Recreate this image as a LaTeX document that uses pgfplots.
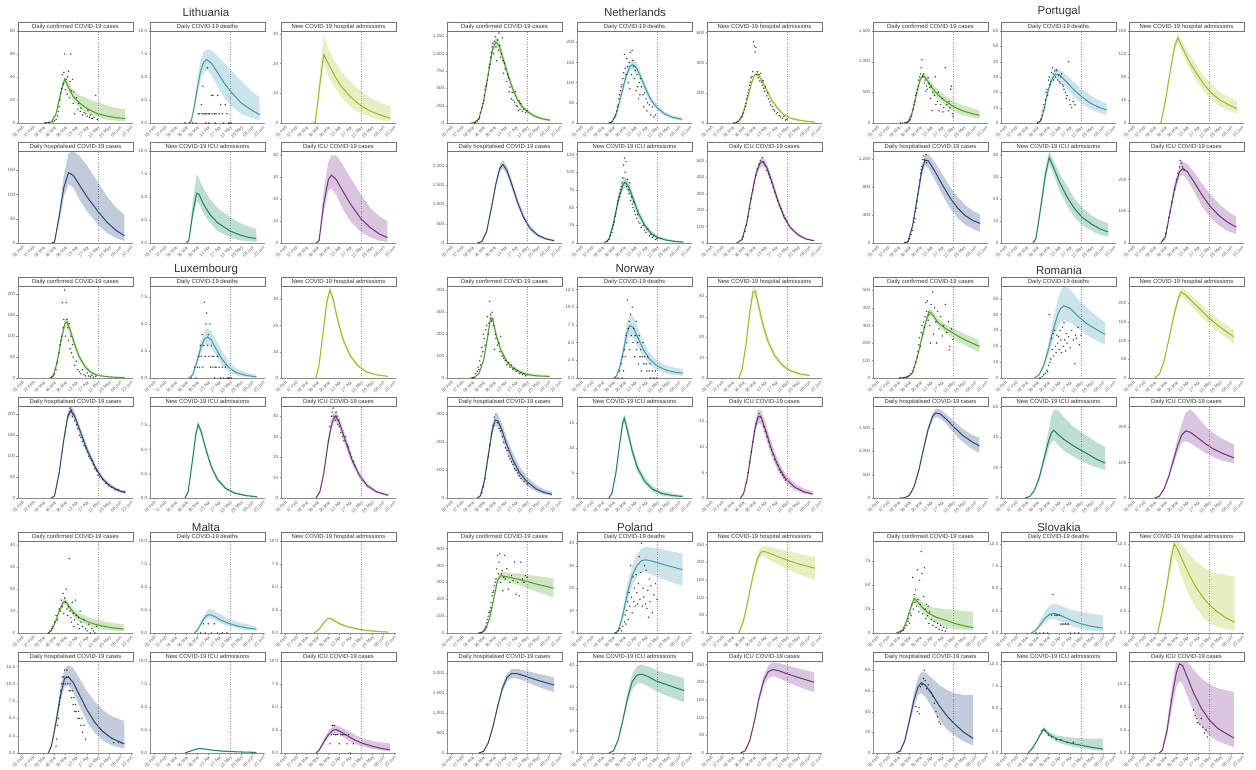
\documentclass[border=0pt]{standalone}
\usepackage{fontspec}
\setmainfont{Liberation Sans}
\usepackage{pgfplots}
\pgfplotsset{compat=1.18}
\definecolor{c1}{RGB}{92,172,52}
\definecolor{c2}{RGB}{84,166,186}
\definecolor{c3}{RGB}{176,202,52}
\definecolor{c4}{RGB}{52,82,132}
\definecolor{c5}{RGB}{40,142,112}
\definecolor{c6}{RGB}{128,62,142}
\pgfplotsset{
 table/row sep=\\, table/header=false,
 panel/.style={scale only axis, width=115pt, height=92pt, anchor=south west,
  xmin=-5, xmax=143, ymin=0, stack plots=y,
  axis x line*=bottom, axis y line*=left,
  axis line style={black!45, line width=0.4pt},
  xtick={0,14,...,140},
  xticklabels={03 Feb,17 Feb,02 Mar,16 Mar,30 Mar,13 Apr,27 Apr,11 May,25 May,08 Jun,22 Jun},
  x tick label style={rotate=45, anchor=north east, font=\fontsize{4.4}{5}\selectfont, text=black!65, inner sep=0.8pt},
  y tick label style={font=\fontsize{4.6}{5}\selectfont, text=black!65, inner sep=1pt},
  tick style={black!45, line width=0.3pt}, major tick length=1.5pt, tick align=outside,
  scaled y ticks=false,
  /pgf/number format/assume math mode=true},
 dec/.style={/pgf/number format/fixed, /pgf/number format/fixed zerofill, /pgf/number format/precision=1}
}
\newcommand{\ptitle}[1]{\ifcase#1\or Daily confirmed COVID-19 cases\or Daily COVID-19 deaths\or New COVID-19 hospital admissions\or Daily hospitalised COVID-19 cases\or New COVID-19 ICU admissions\or Daily ICU COVID-19 cases\fi}
% #1 x  #2 y  #3 type  #4 ymax  #5 options  #6 curve (day, mid, lo, hi)  #7 observed points
\newcommand{\panel}[7]{%
\begin{axis}[panel, name=ax, at={(#1pt,#2pt)}, ymax=#4, #5]
\addplot[draw=none, forget plot] table[x index=0, y index=2] {#6\\};
\addplot[fill=c#3, fill opacity=0.3, draw=none, forget plot] table[x index=0, y expr=\thisrowno{3}-\thisrowno{2}] {#6\\} \closedcycle;
\addplot[stack plots=false, forget plot, black!40, dotted, line width=0.45pt] coordinates {(98,0) (98,#4)};
\if\relax\detokenize{#7}\relax\else
\addplot[stack plots=false, only marks, mark=*, mark size=0.55pt, black!85, mark options={draw opacity=0.7, fill opacity=0.7}] table[x index=0, y index=1] {#7\\};
\fi
\addplot[stack plots=false, c#3!88!black, line width=1.05pt] table[x index=0, y index=1] {#6\\};
\end{axis}
\draw[black!55, line width=0.4pt, fill=white] (ax.north west) rectangle ([yshift=9pt]ax.north east);
\node[font=\fontsize{5.9}{6}\selectfont, text=black!80, inner sep=0pt] at ([yshift=4.5pt]ax.north) {\ptitle{#3}};
}
\begin{document}
\begin{tikzpicture}
\path[use as bounding box] (0,0) rectangle (1256pt,769pt);
\begin{scope}[every node/.style={font=\fontsize{11.5}{12}\selectfont, text=black!80}]
\node at (206pt,757pt) {Lithuania};
\node at (635pt,757pt) {Netherlands};
\node at (1059pt,757pt) {Portugal};
\node at (206pt,499pt) {Luxembourg};
\node at (635pt,499pt) {Norway};
\node at (1059pt,499pt) {Romania};
\node at (206pt,242pt) {Malta};
\node at (635pt,242pt) {Poland};
\node at (1059pt,242pt) {Slovakia};
\end{scope}
% ================= LITHUANIA =================
\panel{18}{646}{1}{80}{ytick={0,20,...,80}}
{28 0 0 0\\38 1 .5 1.5\\44 8 6 10\\50 26 23 29\\55 38 35 41\\60 31 27 35\\66 23 19 28\\75 17 13 24\\85 12 8 21\\98 8 5 18\\110 6 3 15\\122 4.5 2 13\\133 4 1.5 12}
{30 0\\35 0.5\\40 1\\42 2\\44 3\\46 6\\47 10\\48 14\\49 20\\50 26\\51 30\\52 42\\53 34\\54 44\\55 60\\56 29\\57 38\\58 25\\59 40\\60 45\\61 22\\62 36\\63 60\\64 28\\65 38\\66 17\\67 27\\68 8\\70 22\\72 12\\73 17\\75 10\\76 13\\78 7\\80 9\\82 8\\84 6\\85 11\\87 5\\88 7\\90 4\\91 4\\93 5\\95 24\\97 3}
\panel{150}{646}{2}{10}{ytick={0,2.5,...,10}, dec}
{45 0 0 0\\48 .2 .1 .4\\52 1.8 1.3 2.4\\56 3.8 3 4.8\\60 5.6 4.6 6.8\\64 6.6 5.5 7.8\\68 6.9 5.8 8\\74 6.5 5.2 7.9\\82 5.5 4 7.3\\90 4.4 2.8 6.6\\100 3.3 1.8 5.7\\112 2.2 1 4.6\\124 1.5 .6 3.6\\136 .9 .3 2.8}
{40 0\\46 0\\50 0\\54 0\\57 1\\59 1\\61 2\\62 1\\63 4\\64 1\\66 1\\67 0\\68 1\\69 6\\70 1\\71 0\\72 1\\74 3\\75 1\\76 3\\78 1\\79 0\\80 1\\82 3\\84 1\\86 2\\88 1\\90 0\\92 2\\94 1\\96 0\\98 0\\100 0}
\panel{281}{646}{3}{31}{ytick={0,10,20,30}}
{36 0 0 0\\39 0 0 0\\44 11 9 14\\50 23 20 30\\56 20 16 25\\64 16 12 21\\72 12.5 9 17.5\\82 9.5 6 14.5\\92 7 4 12\\100 5.5 3 10.5\\110 4 2 8.5\\122 2.8 1 7\\136 1.6 .5 5.5}
{}
\panel{18}{526}{4}{190}{ytick={0,50,100,150}}
{38 0 0 0\\42 2 1 3\\48 55 45 65\\54 115 95 140\\60 145 122 185\\66 140 115 190\\74 120 90 180\\84 95 65 160\\98 65 38 125\\110 42 20 95\\122 25 10 72\\132 15 4 58}
{}
\panel{150}{526}{5}{10}{ytick={0,2.5,...,10}, dec}
{42 0 0 0\\45 .3 .2 .5\\50 3.2 2.6 4.4\\55 5.4 4.5 7.5\\58 5.3 4.3 7\\64 4.2 3.2 5.9\\72 3.1 2.2 4.8\\82 2.2 1.3 3.8\\98 1.3 .6 2.8\\110 .9 .3 2.2\\122 .6 .2 1.8\\132 .5 .1 1.5}
{}
\panel{281}{526}{6}{42}{ytick={0,10,...,40}}
{40 0 0 0\\44 1 .5 2\\50 18 14 24\\56 29 24 37\\60 31 25 40\\66 29 22 40\\74 24 16 36\\84 18 10 30\\98 11 5 22\\110 7 2.5 16\\122 4 1 12\\132 2.5 .5 10}
{}
% ================= NETHERLANDS =================
\panel{447}{646}{1}{1330}{ytick={0,250,...,1250}}
{25 0 0 0\\30 5 3 7\\36 60 50 70\\42 300 270 330\\48 700 650 750\\54 1080 1020 1150\\58 1170 1100 1250\\62 1120 1050 1200\\68 900 840 970\\74 680 620 740\\80 480 430 530\\86 330 290 370\\92 230 200 265\\98 170 145 195\\106 110 90 135\\114 70 55 95\\122 50 35 70\\128 40 25 60}
{30 2\\32 10\\34 30\\36 55\\37 80\\38 150\\40 220\\41 280\\42 330\\43 400\\44 480\\45 530\\46 560\\47 620\\48 700\\49 800\\50 850\\51 950\\52 1020\\53 1100\\54 1150\\55 1000\\56 1180\\57 1250\\58 1100\\59 900\\60 1200\\61 1050\\62 1300\\63 1120\\64 950\\65 1000\\66 1230\\67 900\\68 720\\69 860\\70 780\\72 600\\73 700\\74 650\\75 450\\76 520\\78 350\\79 440\\80 330\\82 300\\83 450\\84 250\\86 240\\87 180\\88 320\\89 200\\90 280\\92 170\\94 200\\96 150\\98 180}
\panel{577}{646}{2}{228}{ytick={0,50,...,200}}
{35 0 0 0\\40 2 1 3\\46 25 20 30\\52 70 62 78\\58 115 105 126\\63 140 128 155\\67 145 132 160\\72 135 122 150\\78 110 98 122\\84 82 72 92\\90 58 50 66\\98 38 32 45\\108 22 18 28\\118 14 10 19\\130 9 6 13}
{38 1\\40 4\\42 10\\44 15\\45 20\\46 30\\47 40\\48 45\\49 60\\50 70\\51 80\\52 90\\53 95\\54 110\\55 125\\56 170\\57 135\\58 120\\59 160\\60 140\\61 100\\62 150\\63 85\\64 175\\65 120\\66 180\\67 155\\68 140\\69 110\\70 130\\71 80\\72 120\\73 90\\74 60\\75 100\\76 70\\77 110\\78 90\\80 70\\81 40\\82 75\\84 60\\85 30\\86 50\\88 45\\90 20\\92 40\\94 15\\96 20}
\panel{707}{646}{3}{610}{ytick={0,200,400,600}}
{28 0 0 0\\33 3 2 5\\40 40 34 46\\46 140 128 152\\52 260 245 275\\57 325 310 340\\61 320 305 340\\66 280 262 298\\72 215 200 232\\78 155 142 170\\86 95 85 108\\94 55 47 64\\102 32 25 40\\112 20 14 28\\122 12 7 18\\134 6 3 12}
{30 0\\33 5\\35 10\\37 20\\38 30\\39 40\\40 45\\41 60\\42 70\\43 90\\44 110\\45 130\\46 160\\47 180\\48 200\\49 220\\50 250\\51 270\\52 300\\53 310\\54 340\\55 540\\56 510\\57 470\\58 500\\59 320\\60 340\\61 300\\62 320\\63 280\\64 330\\65 270\\66 250\\67 280\\68 230\\69 210\\70 240\\72 180\\73 200\\74 160\\76 140\\77 120\\79 110\\80 90\\82 80\\84 60\\86 70\\88 50\\90 40\\92 30\\94 45\\96 20\\98 25}
\panel{447}{526}{4}{2400}{ytick={0,500,...,2000}}
{34 0 0 0\\40 40 30 50\\46 300 270 330\\52 900 840 960\\58 1550 1470 1630\\63 1950 1860 2040\\67 2050 1950 2160\\72 1900 1790 2010\\78 1550 1440 1660\\86 1050 960 1150\\94 650 580 730\\102 380 330 440\\112 200 165 240\\122 110 85 140\\133 60 42 85}
{}
\panel{577}{526}{5}{130}{ytick={0,25,...,125}}
{30 0 0 0\\36 5 4 7\\42 28 24 32\\48 60 54 67\\54 82 75 90\\57 86 78 94\\62 78 70 86\\68 60 53 67\\74 42 36 48\\82 25 21 30\\90 14 11 18\\98 8 6 11\\110 4 2.5 6\\122 2 1 3.5\\132 1.2 .5 2.5}
{34 2\\36 5\\38 10\\40 15\\41 20\\42 25\\43 30\\44 38\\45 42\\46 48\\47 55\\48 60\\49 65\\50 70\\51 75\\52 80\\53 85\\54 92\\55 110\\56 120\\57 100\\58 115\\59 80\\60 90\\61 75\\62 70\\63 85\\64 60\\65 65\\66 55\\67 50\\68 58\\69 45\\70 40\\72 35\\73 40\\74 30\\76 28\\78 22\\80 25\\82 18\\84 15\\86 20\\88 10\\90 12\\92 8\\94 10\\96 5\\98 6}
\panel{707}{526}{6}{560}{ytick={0,100,...,500}}
{33 0 0 0\\40 20 15 25\\46 120 105 135\\52 280 260 300\\58 420 395 445\\63 485 460 510\\67 495 470 520\\72 460 435 485\\78 380 355 405\\86 260 240 282\\94 160 145 178\\102 95 84 108\\112 50 42 60\\122 25 20 33\\133 13 9 18}
{40 25\\42 40\\44 70\\46 110\\48 160\\50 210\\52 270\\54 320\\56 370\\58 410\\60 450\\62 480\\64 500\\66 520\\68 490\\70 470\\72 440\\74 420\\76 400\\78 370\\80 340\\82 310\\84 280\\86 260\\88 230\\90 210\\92 190\\94 170\\96 150\\98 130}
% ================= PORTUGAL =================
\panel{873}{646}{1}{1500}{ytick={0,500,...,1500}}
{36 0 0 0\\40 10 5 15\\45 150 130 170\\50 420 390 450\\55 680 640 720\\59 780 740 820\\63 730 680 790\\70 590 520 660\\78 470 390 550\\88 360 280 450\\98 270 190 360\\110 200 130 290\\122 155 95 240\\132 125 70 205}
{30 0\\33 2\\36 5\\38 10\\40 20\\42 40\\43 60\\44 100\\45 130\\46 200\\47 230\\48 300\\49 350\\50 450\\51 480\\52 550\\53 600\\54 700\\55 750\\56 800\\57 900\\58 1030\\59 750\\60 800\\61 650\\62 700\\63 520\\64 600\\65 550\\66 740\\67 650\\68 580\\69 400\\70 600\\71 200\\72 500\\74 450\\75 750\\76 300\\78 350\\79 500\\80 200\\82 300\\84 400\\85 180\\86 250\\88 900\\90 300\\92 200\\93 350\\94 250\\95 550\\96 600\\97 150\\98 100}
\panel{1001}{646}{2}{60}{ytick={0,10,...,60}}
{42 0 0 0\\46 1 .5 1.5\\50 8 6.5 9.5\\55 20 17.5 22.5\\60 28 25 31\\65 32 29 35\\70 31.5 28 35\\78 27.5 23.5 32\\88 22 17.5 27\\98 17.5 13 22.5\\110 13 9 18\\122 10 6.5 14.5\\131 8.5 5 12.5}
{42 0\\44 1\\46 2\\47 3\\48 5\\49 8\\50 12\\51 10\\52 15\\53 20\\54 22\\55 18\\56 28\\57 30\\58 25\\59 27\\60 33\\61 36\\62 32\\63 28\\64 34\\65 30\\66 35\\67 34\\68 28\\69 31\\70 27\\71 26\\72 30\\73 32\\74 25\\75 24\\76 22\\78 20\\79 16\\80 18\\82 40\\83 15\\84 12\\86 10\\88 14\\90 12}
\panel{1129}{646}{3}{160}{ytick={0,40,...,160}}
{36 0 0 0\\42 40 37 43\\48 90 85 95\\54 135 128 142\\58 148 140 156\\64 130 120 141\\72 108 96 121\\82 86 73 100\\92 66 53 81\\101 52 40 67\\112 40 29 54\\124 31 21 45\\134 25 16 38}
{}
\panel{873}{526}{4}{1320}{ytick={0,400,...,1200}}
{36 0 0 0\\40 20 15 25\\46 250 220 280\\52 650 600 700\\58 1050 980 1120\\62 1190 1110 1270\\66 1180 1080 1280\\74 1040 920 1170\\84 840 700 990\\94 650 500 810\\104 500 360 660\\114 390 260 540\\124 320 200 460\\133 280 160 410}
{36 10\\40 20\\42 60\\44 120\\46 180\\48 300\\49 350\\50 450\\51 500\\52 600\\53 700\\54 800\\55 900\\56 1000\\57 1050\\58 1100\\59 1200\\60 1250\\61 1200\\62 1180\\63 1270\\64 1150}
\panel{1001}{526}{5}{42}{ytick={0,10,...,40}}
{36 0 0 0\\40 2 1.5 2.5\\46 16 14 18\\52 31 28 34\\57 39 36 42\\62 35 32 38\\70 28 24 32\\80 21 17 26\\90 15.5 11.5 20\\100 11.5 8 16\\112 8.5 5.5 12.5\\122 6.5 3.8 10.5\\133 5 2.8 9}
{}
\panel{1129}{526}{6}{290}{ytick={0,100,200}}
{36 0 0 0\\42 20 15 25\\48 100 90 110\\54 175 160 190\\60 225 208 243\\64 235 215 255\\70 225 200 250\\78 195 165 225\\88 155 120 190\\98 120 85 158\\110 88 57 125\\122 65 38 100\\133 50 27 82}
{40 10\\42 30\\44 50\\46 80\\48 100\\50 130\\52 150\\54 170\\56 200\\58 220\\60 240\\61 260\\62 250\\63 255\\64 240\\66 230}
% ================= LUXEMBOURG =================
\panel{18}{391}{1}{220}{ytick={0,50,...,200}}
{36 0 0 0\\40 3 2 4\\45 35 30 40\\50 85 78 92\\55 128 118 138\\58 135 124 146\\62 115 104 126\\68 80 70 90\\74 50 43 58\\82 25 20 31\\90 12 9 16\\98 6 4 9\\110 3 1.5 5\\122 1.5 .6 3\\133 1 .3 2.5}
{38 2\\40 5\\42 10\\44 20\\45 35\\46 40\\48 60\\49 80\\50 90\\51 100\\52 180\\53 120\\54 140\\55 210\\56 100\\57 180\\58 140\\59 120\\60 90\\61 130\\62 70\\63 100\\64 60\\65 80\\66 50\\68 30\\70 40\\72 20\\74 15\\76 10\\78 20\\80 8\\82 5\\84 12\\86 5\\88 3\\90 6\\92 2\\95 4}
\panel{150}{391}{2}{8.5}{ytick={0,2.5,5,7.5}, dec}
{45 0 0 0\\50 .3 .2 .5\\55 1.4 1.1 1.8\\60 2.7 2.2 3.3\\65 3.6 3 4.3\\69 3.8 3.1 4.6\\74 3.5 2.8 4.3\\80 2.7 2 3.5\\88 1.7 1.1 2.5\\96 1 .6 1.6\\106 .5 .25 .9\\118 .25 .1 .5\\132 .1 .03 .3}
{48 0\\52 1\\54 0\\56 1\\58 2\\59 1\\60 3\\61 2\\62 4\\63 1\\64 3\\65 7\\66 2\\67 5\\68 6\\69 3\\70 4\\71 2\\72 5\\73 1\\74 3\\75 2\\76 1\\77 2\\78 0\\79 1\\80 1\\82 2\\84 1\\86 0\\88 1\\90 0\\92 1\\94 0\\96 0\\98 0\\100 0}
\panel{281}{391}{3}{35}{ytick={0,10,20,30}}
{40 0 0 0\\44 5 4.5 5.5\\49 17 16 18\\54 29 27.5 30.5\\58 33.5 32 35\\62 30 28.5 31.5\\68 22 20.5 23.5\\75 14.5 13.5 15.5\\84 8.5 7.8 9.3\\94 4.6 4.1 5.2\\104 2.5 2.2 2.9\\116 1.3 1.1 1.6\\133 .6 .45 .8}
{}
\panel{18}{271}{4}{220}{ytick={0,50,...,200}}
{38 0 0 0\\42 5 4 6\\48 60 55 65\\54 140 132 148\\59 195 185 205\\63 210 199 221\\68 195 184 206\\75 160 150 170\\84 115 106 124\\94 75 68 82\\104 45 40 51\\114 28 24 33\\124 18 15 22\\133 13 10 17}
{60 200\\62 215\\63 205\\64 210\\65 195\\66 200\\68 185\\70 175\\72 165\\74 150\\76 145\\78 135\\80 125\\82 120\\84 110\\86 100\\88 95\\90 90\\92 80\\94 70\\96 65\\98 55\\100 50\\104 45\\108 35\\112 30\\116 25\\120 20\\124 20\\128 15\\132 15}
\panel{150}{271}{5}{9.5}{ytick={0,2.5,5,7.5}, dec}
{40 0 0 0\\44 .6 .5 .7\\49 3.5 3.3 3.7\\54 6.6 6.3 6.9\\57 7.6 7.3 7.9\\61 6.8 6.5 7.1\\67 5 4.7 5.3\\74 3.2 3 3.5\\82 1.9 1.7 2.1\\92 1 .9 1.2\\104 .5 .4 .6\\118 .25 .2 .35\\133 .12 .08 .2}
{}
\panel{281}{271}{6}{45}{ytick={0,10,...,40}}
{40 0 0 0\\45 3 2.5 3.5\\50 12 11 13\\56 28 26 30\\61 37.5 35 40\\65 40 37.5 42.5\\70 37 34.5 39.5\\78 28 25.5 30.5\\86 19 17 21\\96 11 9.5 12.5\\106 6 5 7\\118 3 2.4 3.7\\133 1.3 .9 1.8}
{56 28\\58 35\\60 40\\61 42\\62 44\\63 40\\64 45\\65 38\\66 42\\67 40\\68 36\\69 38\\70 35\\72 32\\74 30\\76 28\\78 30\\80 26\\82 25\\84 22\\86 20\\88 18\\90 16}
% ================= NORWAY =================
\panel{447}{391}{1}{420}{ytick={0,100,...,400}}
{25 0 0 0\\30 3 2 4\\36 20 17 23\\42 80 72 88\\47 180 168 192\\51 275 260 290\\54 265 250 280\\58 200 186 214\\64 130 118 143\\72 75 65 87\\80 45 36 55\\90 25 17 34\\98 16 10 24\\110 10 5 17\\127 7 3 13}
{28 1\\30 2\\32 20\\34 30\\35 50\\36 40\\37 80\\38 60\\39 100\\40 140\\41 120\\42 200\\43 180\\44 150\\45 220\\46 240\\47 280\\48 200\\49 250\\50 350\\51 290\\52 260\\53 300\\54 270\\55 240\\56 130\\57 200\\58 180\\60 150\\62 160\\63 120\\64 190\\66 100\\68 90\\70 80\\72 60\\74 70\\76 50\\78 60\\80 40\\82 45\\84 30\\86 35\\88 20\\90 25\\92 15\\94 20\\96 10}
\panel{577}{391}{2}{13}{ytick={0,2.5,...,12.5}, dec}
{42 0 0 0\\46 .3 .2 .5\\50 1.5 1.1 2\\55 4 3.1 5\\59 6.3 5 7.6\\63 7.4 5.9 9\\67 7.2 5.7 8.8\\73 5.8 4.5 7.2\\80 4.1 3.1 5.3\\88 2.7 1.9 3.6\\98 1.7 1.1 2.5\\110 1.1 .6 1.8\\122 .8 .4 1.4\\131 .7 .3 1.3}
{45 0\\48 0\\50 1\\52 2\\53 0\\54 3\\55 1\\56 4\\57 3\\58 6\\59 5\\60 11\\61 7\\62 8\\63 4\\64 9\\65 6\\66 10\\67 5\\68 7\\69 3\\70 6\\71 8\\72 4\\73 5\\74 2\\75 6\\76 3\\77 4\\78 1\\79 3\\80 5\\81 2\\82 3\\84 2\\85 1\\86 3\\88 1\\89 2\\90 0\\92 1\\94 0\\96 1\\98 0}
\panel{707}{391}{3}{45}{ytick={0,10,...,40}}
{36 0 0 0\\40 4 3.5 4.5\\45 16 14.5 17.5\\50 32 29.5 34.5\\54 42 39 45\\57 42.5 39 46\\61 36 33 39\\67 26 23.5 28.5\\74 17.5 15.5 19.5\\82 11 9.5 12.5\\92 6.2 5.2 7.3\\102 3.6 2.8 4.5\\114 2 1.4 2.7\\127 1.2 .7 1.8}
{}
\panel{447}{271}{4}{330}{ytick={0,100,200,300}}
{34 0 0 0\\38 8 6 10\\43 60 52 68\\48 150 138 163\\53 240 222 258\\57 280 260 300\\61 275 253 297\\66 240 215 265\\72 190 165 215\\80 135 112 160\\88 92 73 115\\98 58 43 76\\110 32 22 46\\120 20 13 31\\130 13 8 22}
{40 20\\42 40\\44 70\\46 110\\48 150\\50 190\\52 230\\54 260\\56 290\\58 300\\60 270\\62 250\\64 240\\66 220\\68 200\\70 180\\72 170\\74 150\\76 140\\78 130\\80 120\\82 105\\84 100\\86 90\\88 80\\90 70\\94 60\\98 50}
\panel{577}{271}{5}{18.5}{ytick={0,5,10,15}}
{36 0 0 0\\40 1 .9 1.1\\45 5 4.7 5.3\\50 11 10.4 11.6\\54 15.2 14.5 16\\56 16 15.2 16.8\\60 13.5 12.5 14.5\\66 9.5 8.5 10.5\\73 6 5.2 6.8\\82 3.4 2.8 4.1\\92 1.8 1.3 2.4\\104 .9 .5 1.4\\118 .5 .2 .9\\131 .3 .1 .6}
{}
\panel{707}{271}{6}{18}{ytick={0,5,10,15}}
{38 0 0 0\\42 .8 .7 1\\47 4 3.5 4.5\\52 9 8.2 9.8\\57 13.8 12.7 15\\61 16 14.7 17.3\\65 15.7 14.3 17.1\\71 13 11.6 14.4\\78 9.5 8.2 10.8\\86 6.4 5.4 7.5\\96 3.8 3 4.7\\108 2.1 1.5 2.8\\120 1.2 .8 1.8\\131 .8 .5 1.3}
{46 3\\48 5\\50 7\\52 9\\54 11\\56 13\\58 14.5\\60 15.5\\62 16.5\\64 16\\66 15\\68 14\\70 13\\72 12\\74 11\\76 10\\78 9.5\\80 8.5\\82 7.5\\84 7\\86 6.5\\88 5.5\\90 5\\92 4.5\\94 4\\96 3.5}
% ================= ROMANIA =================
\panel{873}{391}{1}{525}{ytick={0,100,...,500}}
{28 0 0 0\\34 1 .5 1.5\\40 6 4 8\\46 30 26 34\\52 120 110 130\\58 230 215 245\\63 320 300 340\\67 378 358 398\\71 365 345 385\\78 320 298 342\\88 283 258 308\\99 253 225 282\\110 225 195 258\\122 200 168 235\\132 180 146 215}
{30 0\\34 1\\36 3\\38 5\\40 10\\42 15\\44 25\\46 40\\48 60\\50 90\\52 120\\53 150\\54 190\\55 230\\56 180\\57 260\\58 300\\59 250\\60 320\\61 290\\62 350\\63 430\\64 380\\65 440\\66 330\\67 360\\68 300\\69 200\\70 420\\72 490\\73 250\\74 400\\76 320\\77 200\\78 380\\80 280\\82 350\\84 240\\86 300\\88 420\\90 260\\92 320\\93 160\\94 180\\96 280\\98 220}
\panel{1001}{391}{2}{58}{ytick={0,10,...,50}}
{38 0 0 0\\44 2 1.5 2.5\\50 8 6 10\\56 18 14 22\\62 30 24 36\\68 40 32 50\\72 44 35 55\\76 45.5 36.5 58\\84 44 35 56\\95 38.5 31 49\\106 34 27 44\\118 30.5 23.5 39\\129 27.5 21 35}
{44 0\\46 0\\48 1\\50 2\\52 3\\54 5\\55 4\\56 8\\57 40\\58 10\\59 12\\60 25\\61 18\\62 28\\63 14\\64 30\\65 20\\66 16\\67 27\\68 22\\69 26\\70 18\\71 30\\72 24\\73 16\\74 32\\75 20\\76 35\\77 24\\78 17\\79 28\\80 22\\82 26\\84 19\\86 30\\88 24\\90 9\\91 27\\92 25\\94 32\\96 21\\98 27}
\panel{1129}{391}{3}{246}{ytick={0,50,...,200}}
{28 0 0 0\\34 10 9 11\\40 45 42 48\\46 100 95 105\\52 160 152 168\\58 210 200 220\\62 230 220 240\\68 222 210 234\\76 205 190 220\\86 185 168 202\\97 162 146 180\\108 143 126 160\\120 124 107 142\\130 110 92 127}
{}
\panel{873}{271}{4}{1974}{ytick={0,500,...,1500}}
{30 0 0 0\\36 5 4 6\\42 60 55 65\\48 250 235 265\\54 600 570 630\\60 1050 1000 1100\\66 1480 1410 1550\\72 1760 1680 1840\\76 1825 1740 1910\\82 1800 1705 1895\\90 1680 1570 1790\\99 1525 1400 1650\\110 1350 1210 1490\\121 1220 1070 1370\\132 1115 960 1290}
{}
\panel{1001}{271}{5}{60.5}{ytick={0,20,40,60}}
{26 0 0 0\\32 1 .8 1.2\\38 5 4.5 5.5\\44 13 11.5 14.5\\50 25 22 28\\56 37 32 44\\60 43 37 54\\63 44.5 38 58\\68 42 35 58\\76 38.5 31 53\\86 35 28 48\\96 32 25 44\\108 28.5 22 40\\118 25.5 20 36.5\\129 23 18.5 33.5}
{}
\panel{1129}{271}{6}{259}{ytick={0,100,200}}
{28 0 0 0\\34 5 4 6\\40 25 22 28\\46 60 54 66\\52 105 94 118\\58 150 132 172\\63 178 155 210\\68 189 160 240\\74 185 155 250\\82 172 143 232\\92 155 128 205\\102 140 117 185\\114 127 106 168\\130 113 98 150}
{}
% ================= MALTA =================
\panel{18}{136}{1}{42}{ytick={0,10,...,40}}
{34 0 0 0\\38 1 .8 1.2\\43 5 4.3 5.7\\48 10 9 11\\53 14 12.8 15.2\\56 14.5 13 16\\60 12.5 11 14\\66 9.5 7.8 11.3\\74 7 5.2 9\\84 5.2 3.4 7.5\\94 4 2.3 6.2\\106 3 1.5 5.2\\118 2.3 1 4.5\\131 1.8 .7 4}
{34 0\\36 1\\38 2\\40 3\\42 5\\44 8\\46 6\\48 11\\50 10\\51 15\\52 12\\53 18\\54 9\\55 16\\56 14\\57 20\\58 11\\59 8\\60 12\\61 34\\62 10\\63 7\\64 5\\65 14\\66 9\\67 3\\68 6\\69 15\\70 8\\72 4\\73 7\\74 2\\75 10\\76 5\\78 3\\80 6\\82 2\\84 1\\86 4\\88 0\\90 2\\92 1\\94 0\\96 3}
\panel{150}{136}{2}{10}{ytick={0,2.5,...,10}, dec}
{52 0 0 0\\56 .3 .2 .4\\60 .9 .7 1.2\\64 1.5 1.2 1.9\\68 1.9 1.5 2.4\\72 2 1.6 2.6\\78 1.8 1.4 2.4\\86 1.4 1.05 2\\96 1.05 .75 1.55\\108 .75 .5 1.2\\120 .55 .35 .95\\132 .4 .25 .75}
{60 0\\64 1\\66 0\\70 1\\74 0\\78 1\\82 0\\88 0\\94 0}
\panel{281}{136}{3}{10}{ytick={0,2.5,...,10}, dec}
{38 0 0 0\\44 .4 .35 .45\\50 1.1 1 1.2\\55 1.55 1.45 1.65\\58 1.6 1.5 1.7\\64 1.3 1.2 1.45\\72 .95 .83 1.07\\82 .65 .55 .78\\94 .42 .33 .53\\108 .25 .18 .34\\122 .15 .1 .23\\133 .1 .06 .17}
{}
\panel{18}{16}{4}{13.3}{ytick={0,2.5,...,12.5}, dec}
{34 0 0 0\\38 1 .8 1.2\\44 4.5 3.8 5.3\\50 8.5 7.5 9.7\\55 10.8 9.6 12.2\\60 11 9.8 12.7\\66 10.2 8.8 12.3\\74 8.4 6.8 10.8\\84 6.2 4.5 8.9\\94 4.4 2.9 7.4\\104 3.1 1.8 6.2\\116 2.1 1.1 5.3\\132 1.3 .6 4.6}
{44 1\\45 2\\46 4\\47 5\\48 7\\49 8\\50 9\\51 10\\52 11\\53 10\\54 11\\55 12\\56 10\\57 11\\58 12\\59 10\\60 11\\61 9\\62 10\\63 9\\64 8\\65 9\\66 7\\67 8\\68 6\\69 7\\70 6\\72 5\\73 6\\74 5\\76 4\\77 5\\78 3\\80 4\\82 2\\118 1.5\\124 1.5\\128 1.5}
\panel{150}{16}{5}{10}{ytick={0,2.5,...,10}, dec}
{40 0 0 0\\50 .3 .28 .32\\58 .5 .45 .55\\64 .45 .4 .5\\74 .32 .28 .37\\86 .22 .18 .27\\100 .15 .11 .19\\116 .1 .07 .14\\132 .07 .04 .11}
{}
\panel{281}{16}{6}{10}{ytick={0,2.5,...,10}, dec}
{40 0 0 0\\44 .3 .2 .4\\50 1.2 .9 1.5\\56 2 1.7 2.4\\62 2.5 2.15 2.95\\66 2.55 2.2 3\\72 2.3 1.9 2.8\\80 1.9 1.45 2.45\\90 1.4 1 2\\100 1.05 .7 1.6\\112 .75 .45 1.3\\124 .5 .3 1.15\\135 .35 .2 1.05}
{58 1\\60 2\\61 3\\62 3\\63 2\\64 3\\65 2\\66 2\\68 2\\70 1\\72 2\\74 2\\76 2\\78 2\\80 1\\82 2\\84 0\\88 1}
% ================= POLAND =================
\panel{447}{136}{1}{545}{ytick={0,100,...,500}}
{36 0 0 0\\40 3 2 4\\45 25 20 30\\50 90 80 100\\55 200 185 215\\60 310 290 330\\64 340 318 362\\70 335 310 360\\80 325 295 355\\90 315 280 352\\100 303 262 345\\110 290 245 338\\122 277 228 330\\132 265 210 325}
{36 0\\38 2\\40 5\\42 10\\43 20\\44 30\\45 40\\46 60\\47 80\\48 100\\49 120\\50 130\\51 150\\52 180\\53 220\\54 240\\55 250\\56 280\\57 300\\58 320\\59 380\\60 460\\61 350\\62 420\\63 470\\64 300\\65 350\\66 370\\67 250\\68 330\\69 460\\70 320\\72 380\\74 260\\76 300\\78 340\\80 310\\82 420\\84 230\\86 300\\88 220\\90 420\\92 320\\94 300\\96 340\\98 330}
\panel{577}{136}{2}{41}{ytick={0,10,...,40}}
{44 0 0 0\\48 1 .6 1.4\\54 8 5.5 10.5\\60 18 14 22\\66 25.5 21 30\\72 30 25 35\\78 32.3 27 37.5\\84 32.6 27 38.5\\92 32 26 38\\102 31 24.5 37.5\\114 29.8 23 36.5\\131 28.2 21 35.5}
{44 0\\46 0\\48 1\\50 2\\52 1\\54 3\\56 5\\57 8\\58 4\\59 10\\60 14\\61 6\\62 18\\63 12\\64 30\\65 16\\66 9\\67 25\\68 14\\69 20\\70 12\\71 26\\72 18\\73 13\\74 22\\75 34\\76 15\\77 27\\78 40\\79 12\\80 20\\81 16\\82 30\\83 13\\84 28\\85 11\\86 19\\87 7\\88 24\\89 14\\90 21\\92 9\\94 17\\96 22\\98 15}
\panel{707}{136}{3}{260}{ytick={0,50,...,250}}
{36 0 0 0\\42 35 32 38\\48 95 88 102\\54 160 150 170\\60 210 197 223\\64 228 214 242\\68 231 216 246\\76 225 206 244\\86 216 194 238\\98 206 180 232\\110 197 169 226\\122 190 159 220\\134 183 150 215}
{}
\panel{447}{16}{4}{2300}{ytick={0,500,...,2000}}
{36 0 0 0\\42 40 35 45\\48 250 230 270\\54 650 610 690\\60 1150 1090 1210\\66 1600 1520 1680\\72 1880 1780 1980\\78 1990 1880 2100\\86 1980 1860 2100\\96 1920 1790 2060\\108 1840 1690 2000\\120 1770 1600 1950\\133 1700 1520 1890}
{}
\panel{577}{16}{5}{42}{ytick={0,10,...,40}}
{36 0 0 0\\42 1 .8 1.2\\48 6 5.4 6.6\\54 15 13.5 16.5\\60 25 22.5 27.5\\66 32.5 29 36\\72 35.5 31.5 39.5\\78 36 32 40.5\\86 35 30.5 39.5\\96 33 28.5 38\\108 31.5 26.5 36.5\\120 30 25 35.5\\133 28.5 23 34}
{}
\panel{707}{16}{6}{260}{ytick={0,50,...,250}}
{38 0 0 0\\44 6 5 7\\50 35 32 38\\56 90 84 96\\62 155 145 165\\68 205 190 220\\74 230 212 248\\80 236 217 256\\88 232 211 254\\98 224 201 248\\110 215 190 240\\122 207 180 234\\133 200 172 228}
{}
% ================= SLOVAKIA =================
\panel{873}{136}{1}{96}{ytick={0,25,50,75}}
{25 0 0 0\\33 3 2.5 3.5\\38 12 10.5 13.5\\43 25 22.5 27.5\\48 36 33 39\\52 33 29 37\\58 27 22 33\\66 21 15 28\\76 16.5 10 26\\90 13 6.5 25\\100 10 4.5 24\\112 7.5 3.5 23\\124 5.5 3 22}
{28 0\\30 1\\32 2\\34 3\\36 5\\38 8\\40 12\\41 15\\42 10\\43 20\\44 18\\45 30\\46 58\\47 25\\48 40\\49 32\\50 45\\51 28\\52 66\\53 35\\54 22\\55 55\\56 30\\57 85\\58 62\\59 20\\60 38\\61 68\\62 25\\63 15\\64 30\\65 18\\66 28\\67 10\\68 22\\70 14\\72 8\\74 12\\76 6\\78 10\\80 4\\82 8\\84 3\\86 6\\88 2\\90 5}
\panel{1001}{136}{2}{10.3}{ytick={0,2.5,...,10}, dec}
{34 0 0 0\\40 .3 .2 .45\\46 1 .7 1.5\\52 1.7 1.2 2.5\\58 2.1 1.5 3.1\\62 2.2 1.6 3.3\\68 2.1 1.4 3.2\\76 1.8 1.1 2.9\\86 1.4 .75 2.6\\96 1.1 .5 2.4\\108 .8 .3 2.2\\126 .55 .15 2}
{40 0\\45 0\\50 0\\55 0\\60 2\\62 4.3\\64 2\\66 2\\68 2\\70 2\\72 1\\74 1\\76 1\\78 1\\80 1\\82 1\\84 0\\90 0\\95 0}
\panel{1129}{136}{3}{10.3}{ytick={0,2.5,...,10}, dec}
{32 0 0 0\\38 2.5 2.2 2.8\\44 5.5 4.9 6.2\\49 8.2 7.2 9.3\\53 10 8.5 10.3\\58 9.3 7.6 10.3\\64 8.1 6 9.8\\72 6.6 4.3 8.9\\80 5.3 3 8.1\\90 4 1.8 7.4\\98 3.2 1.1 7\\108 2.4 .7 6.7\\120 1.7 .45 6.5\\131 1.2 .3 6.3}
{}
\panel{873}{16}{4}{89}{ytick={0,20,...,80}}
{25 0 0 0\\30 2 1.5 2.5\\36 12 10 14\\42 32 28 36\\48 52 45 59\\53 64 56 73\\57 68 58 78\\62 66 55 78\\70 58 45 73\\80 46 32 66\\90 36 23 61\\100 28 17 58\\112 20 11 56\\124 14 7 56}
{50 45\\52 40\\54 44\\55 38\\56 64\\58 66\\60 72\\61 80\\62 70\\64 62\\66 66\\68 60\\70 58\\72 55\\74 48\\76 40\\78 35\\80 30\\82 28}
\panel{1001}{16}{5}{10.3}{ytick={0,2.5,...,10}, dec}
{30 0 0 0\\36 .6 .5 .7\\42 1.5 1.35 1.65\\47 2.3 2.1 2.5\\50 2.7 2.5 2.9\\54 2.3 2.05 2.6\\60 1.9 1.6 2.2\\68 1.55 1.2 1.95\\78 1.25 .9 1.8\\90 1 .65 1.7\\102 .8 .5 1.65\\114 .6 .35 1.6\\126 .45 .25 1.6}
{48 2.5\\52 2.5\\56 2\\60 1.8\\66 1.5\\72 1.5\\80 1.2\\88 1.2}
\panel{1129}{16}{6}{16}{ytick={0,4,8,12}, dec}
{34 0 0 0\\38 .5 .4 .6\\44 4 3 5\\50 9.5 7.5 11.5\\56 14 11.5 16\\60 15.5 12.5 16.5\\64 15.2 12 16.5\\70 13.2 10 15.8\\78 10.5 7.2 14.5\\88 7.8 4.6 13\\98 5.8 3 12\\110 4.2 2 11.2\\130 2.6 1 10.6}
{78 7.5\\80 6.5\\82 6\\83 5.3\\84 5.3\\86 5\\88 6\\90 4.5\\92 3.5\\94 4\\96 2.8}
\end{tikzpicture}
\end{document}
